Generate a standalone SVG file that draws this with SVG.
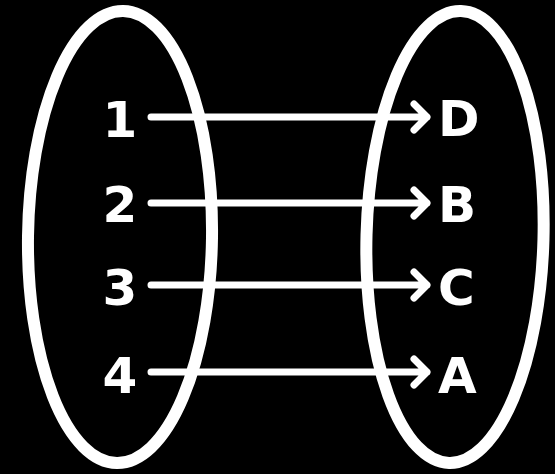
<svg xmlns="http://www.w3.org/2000/svg" width="555" height="474" viewBox="0 0 555 474">
<style>
.set{fill:none;stroke:#fff;stroke-width:12}
.lbl{fill:#fff;font-family:"DejaVu Sans",Verdana,sans-serif;font-weight:bold;font-size:50px}
.num{text-anchor:middle}
.arr{fill:none;stroke:#fff;stroke-width:7;stroke-linecap:round;stroke-linejoin:round}
</style>
<rect width="555" height="474" fill="#000"/>
<g id="domain">
<ellipse class="set" cx="120" cy="237" rx="92" ry="226" transform="rotate(0.8 120 237)"/>
</g>
<g id="codomain">
<ellipse class="set" cx="455" cy="237" rx="88.5" ry="226" transform="rotate(1.5 455 237)"/>
</g>
<g id="n1"><text class="lbl num" x="120" y="137">1</text></g>
<g id="n2"><text class="lbl num" x="120" y="222">2</text></g>
<g id="n3"><text class="lbl num" x="120" y="305">3</text></g>
<g id="n4"><text class="lbl num" x="120" y="393">4</text></g>
<g id="lD"><text class="lbl" x="438" y="136">D</text></g>
<g id="lB"><text class="lbl" x="438" y="222">B</text></g>
<g id="lC"><text class="lbl" x="438" y="305">C</text></g>
<g id="lA"><text class="lbl" x="438" y="393">A</text></g>
<g id="connectors">
<path class="arr" d="M151 117H427M414 104L427 117L414 130"/>
<path class="arr" d="M151 203H427M414 190L427 203L414 216"/>
<path class="arr" d="M151 285H427M414 272L427 285L414 298"/>
<path class="arr" d="M151 372H427M414 359L427 372L414 385"/>
</g>
</svg>
